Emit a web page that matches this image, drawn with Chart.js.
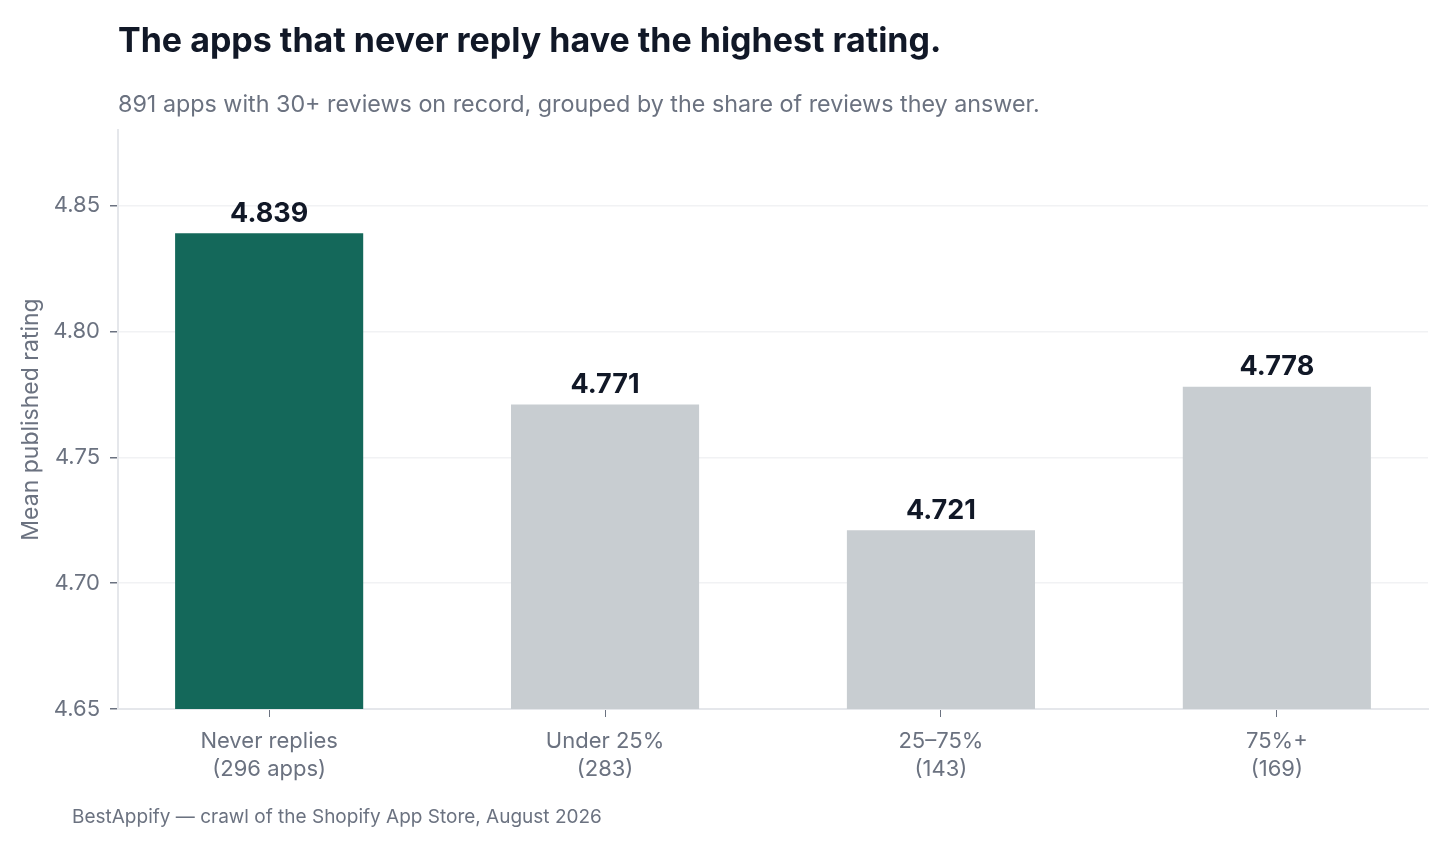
<!DOCTYPE html>
<html lang="en">
<head>
  <meta charset="UTF-8" />
  <title>Reply rate vs rating</title>
  <script src="https://cdn.jsdelivr.net/npm/chart.js"></script>
  <style>
    body { margin: 0; background: #fff; font-family: Inter, "Liberation Sans", Arial, sans-serif; }
    .wrap { position: relative; width: 1445px; height: 845px; }
    .wrap canvas { position: absolute; left: 0; top: 0; }
    .title { position: absolute; left: 118px; top: 19px; font-size: 34px; font-weight: bold; color: #111827; white-space: nowrap; }
    .subtitle { position: absolute; left: 118px; top: 89px; font-size: 23.3px; color: #6b7280; white-space: nowrap; }
    .source { position: absolute; left: 72px; top: 805px; font-size: 19px; color: #6b7280; white-space: nowrap; }
  </style>
</head>
<body>
  <div class="wrap">
    <canvas id="ratingChart" width="1445" height="845"></canvas>
    <div class="title">The apps that never reply have the highest rating.</div>
    <div class="subtitle">891 apps with 30+ reviews on record, grouped by the share of reviews they answer.</div>
    <div class="source">BestAppify — crawl of the Shopify App Store, August 2026</div>
  </div>

  <script>
    // reply-share buckets and mean rating per bucket
    const categories = [
      ['Never replies', '(296 apps)'],
      ['Under 25%', '(283)'],
      ['25–75%', '(143)'],
      ['75%+', '(169)']
    ];
    const ratings = [4.839, 4.771, 4.721, 4.778];
    const yTicks = [4.65, 4.70, 4.75, 4.80, 4.85];
    const barColors = ['#14685a', '#c8cdd1', '#c8cdd1', '#c8cdd1'];

    const FONT = 'Inter, "Liberation Sans", Arial, sans-serif';

    // value labels above each bar
    const valueLabels = {
      id: 'valueLabels',
      afterDatasetsDraw(chart) {
        const ctx = chart.ctx;
        const meta = chart.getDatasetMeta(0);
        ctx.save();
        ctx.font = 'bold 27px ' + FONT;
        ctx.fillStyle = '#111827';
        ctx.textAlign = 'center';
        ctx.textBaseline = 'bottom';
        meta.data.forEach((bar, i) => {
          ctx.fillText(ratings[i].toFixed(3), bar.x, bar.y - 6);
        });
        ctx.restore();
      }
    };

    const ctx = document.getElementById('ratingChart').getContext('2d');
    new Chart(ctx, {
      type: 'bar',
      data: {
        datasets: [{
          data: ratings.map((r, i) => ({ x: i, y: r })),
          backgroundColor: barColors,
          borderWidth: 0,
          barPercentage: 0.56,
          categoryPercentage: 1
        }]
      },
      options: {
        responsive: false,
        animation: false,
        events: [],
        layout: { padding: { left: 17, top: 130, right: 17, bottom: 56 } },
        plugins: { legend: { display: false }, tooltip: { enabled: false } },
        scales: {
          x: {
            type: 'linear',
            min: -0.45,
            max: 3.45,
            offset: false,
            afterBuildTicks: (axis) => { axis.ticks = categories.map((c, i) => ({ value: i })); },
            afterFit: (axis) => { axis.height = 80; },
            ticks: {
              callback: (v) => categories[v],
              color: '#6b7280',
              font: { family: FONT, size: 22, lineHeight: 1.27 },
              padding: 10,
              maxRotation: 0
            },
            grid: { offset: false, drawOnChartArea: false, drawTicks: true, tickLength: 8, tickColor: '#6b7280' },
            border: { display: true, color: '#e5e7eb', width: 2 }
          },
          y: {
            min: 4.65,
            max: 4.88,
            afterBuildTicks: (axis) => { axis.ticks = yTicks.map(v => ({ value: v })); },
            afterFit: (axis) => { axis.width = 101; },
            ticks: {
              callback: (v) => v.toFixed(2),
              color: '#6b7280',
              font: { family: FONT, size: 22 },
              padding: 10
            },
            grid: { color: '#f1f2f4', lineWidth: 1.5, tickLength: 8, tickColor: '#6b7280' },
            border: { display: true, color: '#e5e7eb', width: 2 },
            title: {
              display: true,
              text: 'Mean published rating',
              color: '#6b7280',
              font: { family: FONT, size: 23 },
              padding: { top: 0, bottom: 4 }
            }
          }
        }
      },
      plugins: [valueLabels]
    });
  </script>
</body>
</html>
